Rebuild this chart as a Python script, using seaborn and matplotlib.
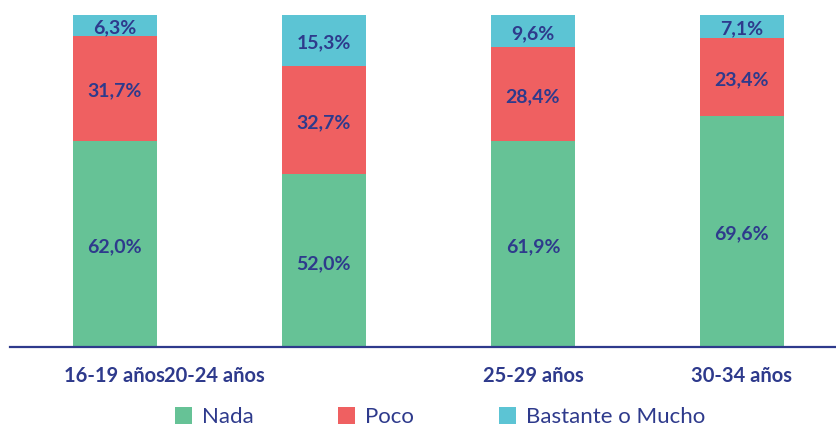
import matplotlib
matplotlib.use("Agg")
import matplotlib.pyplot as plt
from matplotlib.patches import Patch
import seaborn as sns
import pandas as pd
import numpy as np

# Age groups and share of answers per group (%)
groups = ["16-19 años", "20-24 años", "25-29 años", "30-34 años"]
nada = [62.0, 52.0, 61.9, 69.6]
poco = [31.7, 32.7, 28.4, 23.4]
bastante = [6.3, 15.3, 9.6, 7.1]
series_names = ["Nada", "Poco", "Bastante o Mucho"]

colors = ["#66C296", "#EF6061", "#5CC4D4"]
navy = "#2E3A8C"

sns.set_theme(style="white")
plt.rcParams["font.family"] = ["Lato", "DejaVu Sans"]

df = pd.DataFrame({"grupo": groups, "Nada": nada, "Poco": poco,
                   "Bastante o Mucho": bastante})

fig = plt.figure(figsize=(8.37, 4.30), dpi=100)
ax = fig.add_axes([10 / 837, 83 / 430, 827 / 837, 332 / 430])

bottom = np.zeros(len(groups))
for name, col in zip(series_names, colors):
    vals = df[name].to_numpy()
    sns.barplot(data=df, x="grupo", y=name, order=groups, color=col,
                width=0.40, bottom=bottom, ax=ax, saturation=1,
                edgecolor="none", linewidth=0)
    for i, (b, v) in enumerate(zip(bottom, vals)):
        ax.text(i, b + v / 2 - 0.8, f"{v:.1f}%".replace(".", ","),
                ha="center", va="center", color=navy, fontsize=14,
                fontweight="bold")
    bottom = bottom + vals

ax.set_xlim(-0.502, 3.455)
ax.set_ylim(0, 100)
ax.set_yticks([])
ax.set_xlabel("")
ax.set_ylabel("")
ax.set_xticks([0.0, 0.475, 2.0, 3.0])
ax.set_xticklabels(groups, fontsize=14.5, fontweight="bold", color=navy)
ax.tick_params(axis="x", length=0, pad=14)

for s in ["top", "right", "left"]:
    ax.spines[s].set_visible(False)
ax.spines["bottom"].set_color(navy)
ax.spines["bottom"].set_linewidth(1.6)

handles = [Patch(facecolor=c, edgecolor="none", label=n)
           for n, c in zip(series_names, colors)]
fig.legend(handles=handles, loc="center", bbox_to_anchor=(440 / 837, 1 - 417 / 430),
           ncol=3, frameon=False, fontsize=16, handlelength=0.77,
           handleheight=0.77, handletextpad=0.45, columnspacing=3.8,
           labelcolor=navy, borderpad=0.2)

fig.savefig("out.png", dpi=100)
